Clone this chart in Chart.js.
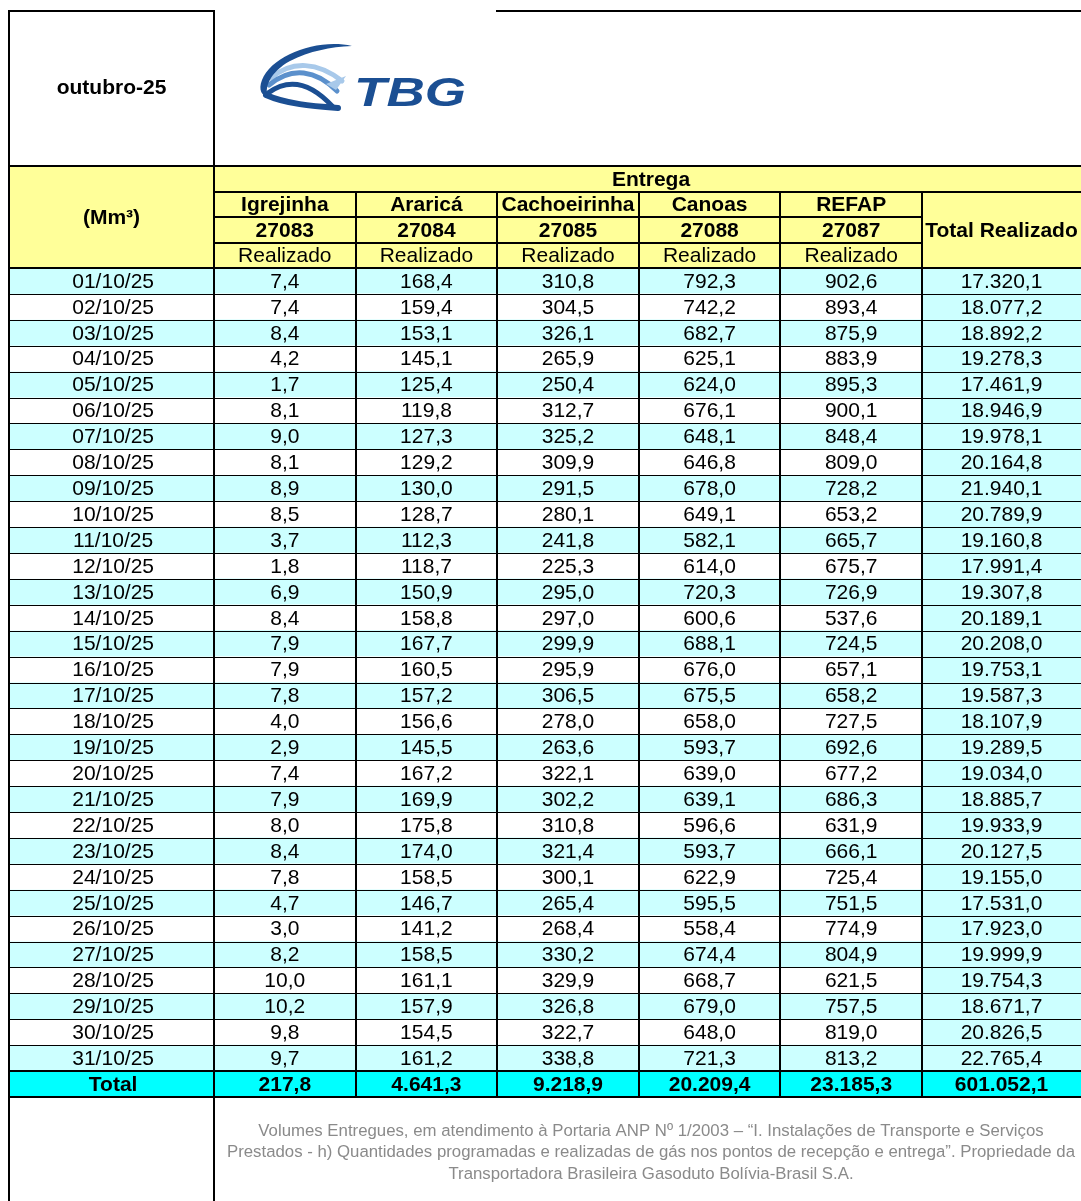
<!DOCTYPE html>
<html>
<head>
<meta charset="utf-8">
<script src="https://cdn.jsdelivr.net/npm/chart.js@4.4.1/dist/chart.umd.min.js"></script>
<style>
  html, body { margin: 0; padding: 0; background: #fff; }
  canvas { display: block; }
</style>
</head>
<body>
<canvas id="canvas" width="1081" height="1201"></canvas>
<script>
// data (Mm³)
const days = ['01/10/25','02/10/25','03/10/25','04/10/25','05/10/25','06/10/25','07/10/25','08/10/25',
  '09/10/25','10/10/25','11/10/25','12/10/25','13/10/25','14/10/25','15/10/25','16/10/25','17/10/25',
  '18/10/25','19/10/25','20/10/25','21/10/25','22/10/25','23/10/25','24/10/25','25/10/25','26/10/25',
  '27/10/25','28/10/25','29/10/25','30/10/25','31/10/25'];
const pointNames = ['Igrejinha', 'Araricá', 'Cachoeirinha', 'Canoas', 'REFAP'];
const pointCodes = ['27083', '27084', '27085', '27088', '27087'];

const igrejinha = [7.4,7.4,8.4,4.2,1.7,8.1,9.0,8.1,8.9,8.5,3.7,1.8,6.9,8.4,7.9,7.9,7.8,4.0,2.9,7.4,
  7.9,8.0,8.4,7.8,4.7,3.0,8.2,10.0,10.2,9.8,9.7];
const ararica = [168.4,159.4,153.1,145.1,125.4,119.8,127.3,129.2,130.0,128.7,112.3,118.7,150.9,158.8,
  167.7,160.5,157.2,156.6,145.5,167.2,169.9,175.8,174.0,158.5,146.7,141.2,158.5,161.1,157.9,154.5,161.2];
const cachoeirinha = [310.8,304.5,326.1,265.9,250.4,312.7,325.2,309.9,291.5,280.1,241.8,225.3,295.0,
  297.0,299.9,295.9,306.5,278.0,263.6,322.1,302.2,310.8,321.4,300.1,265.4,268.4,330.2,329.9,326.8,322.7,338.8];
const canoas = [792.3,742.2,682.7,625.1,624.0,676.1,648.1,646.8,678.0,649.1,582.1,614.0,720.3,600.6,
  688.1,676.0,675.5,658.0,593.7,639.0,639.1,596.6,593.7,622.9,595.5,558.4,674.4,668.7,679.0,648.0,721.3];
const refap = [902.6,893.4,875.9,883.9,895.3,900.1,848.4,809.0,728.2,653.2,665.7,675.7,726.9,537.6,
  724.5,657.1,658.2,727.5,692.6,677.2,686.3,631.9,666.1,725.4,751.5,774.9,804.9,621.5,757.5,819.0,813.2];
const totalRealizado = [17320.1,18077.2,18892.2,19278.3,17461.9,18946.9,19978.1,20164.8,21940.1,
  20789.9,19160.8,17991.4,19307.8,20189.1,20208.0,19753.1,19587.3,18107.9,19289.5,19034.0,18885.7,
  19933.9,20127.5,19155.0,17531.0,17923.0,19999.9,19754.3,18671.7,20826.5,22765.4];
const monthTotals = [217.8, 4641.3, 9218.9, 20209.4, 23185.3, 601052.1];

const footerLines = [
  'Volumes Entregues, em atendimento à Portaria ANP Nº 1/2003 – “I. Instalações de Transporte e Serviços',
  'Prestados - h) Quantidades programadas e realizadas de gás nos pontos de recepção e entrega”. Propriedade da',
  'Transportadora Brasileira Gasoduto Bolívia-Brasil S.A.'
];

// layout
const LEFT = 9, SPLIT = 214, RIGHT = 1081;
const COL_W = 141.6;
const X_MAX = (RIGHT - SPLIT) / COL_W;
const HEAD_Y = [166, 192, 217, 243, 268];
const TABLE_BOTTOM = 1097;
const FONT = '"Liberation Sans", Arial, Helvetica, sans-serif';
const YELLOW = '#FFFF99', LIGHT = '#CCFFFF', CYAN = '#00FFFF';

const rowLabels = days.concat(['Total']);
const columns = [igrejinha, ararica, cachoeirinha, canoas, refap, totalRealizado];

function fmt(v) {
  const parts = v.toFixed(1).split('.');
  return parts[0].replace(/\B(?=(\d{3})+(?!\d))/g, '.') + ',' + parts[1];
}

function colStart(c) { return c; }
function colEnd(c) { return c === 5 ? X_MAX : c + 1; }

function rowFill(i) {
  if (i === days.length) return CYAN;
  return i % 2 === 0 ? LIGHT : '#FFFFFF';
}

function drawLogo(ctx) {
  const dark = '#1B4F93', mid = '#5B90CC', light = '#A8C9EA';
  ctx.save();
  ctx.lineCap = 'round';
  // ribbon bands
  const band = (col, w, pts) => {
    ctx.strokeStyle = col;
    ctx.lineWidth = w;
    ctx.beginPath();
    ctx.moveTo(pts[0], pts[1]);
    ctx.bezierCurveTo(pts[2], pts[3], pts[4], pts[5], pts[6], pts[7]);
    ctx.stroke();
  };
  band(light, 5, [271, 78, 292, 60, 318, 62, 342, 81]);
  band(mid, 5, [269, 85, 292, 66, 316, 70, 337, 91]);
  band(dark, 5, [268, 93, 290, 77, 312, 84, 333, 107]);
  band(dark, 6, [266, 95, 286, 104, 312, 106, 338, 108]);
  // arrow tip of the upper arm
  ctx.fillStyle = light;
  ctx.beginPath();
  ctx.moveTo(326, 84);
  ctx.lineTo(346, 76);
  ctx.lineTo(336, 90);
  ctx.closePath();
  ctx.fill();
  // thin dark arc
  ctx.fillStyle = dark;
  ctx.beginPath();
  ctx.moveTo(352, 46);
  ctx.bezierCurveTo(318, 38, 272, 55, 262, 80);
  ctx.bezierCurveTo(258, 90, 262, 96, 268, 97);
  ctx.bezierCurveTo(264, 88, 270, 72, 290, 61);
  ctx.bezierCurveTo(310, 51, 330, 47, 352, 46);
  ctx.fill();
  // TBG
  ctx.font = 'italic bold 40px ' + FONT;
  const w = ctx.measureText('TBG').width;
  ctx.translate(354, 106);
  ctx.scale(112 / w, 1);
  ctx.textAlign = 'left';
  ctx.textBaseline = 'alphabetic';
  ctx.fillText('TBG', 0, 0);
  ctx.restore();
}

const tablePlugin = {
  id: 'tablePlugin',
  beforeDraw(chart) {
    const ctx = chart.ctx;
    const y = chart.scales.y;
    const band = y.getPixelForValue(1) - y.getPixelForValue(0);
    ctx.save();
    ctx.fillStyle = '#FFFFFF';
    ctx.fillRect(0, 0, chart.width, chart.height);
    ctx.fillStyle = YELLOW;
    ctx.fillRect(LEFT, HEAD_Y[0], RIGHT - LEFT, HEAD_Y[4] - HEAD_Y[0]);
    rowLabels.forEach((d, i) => {
      ctx.fillStyle = rowFill(i);
      ctx.fillRect(LEFT, y.getPixelForValue(i) - band / 2, SPLIT - LEFT, band + 0.5);
    });
    ctx.restore();
  },
  afterDatasetsDraw(chart) {
    const ctx = chart.ctx;
    ctx.save();
    ctx.fillStyle = '#000';
    ctx.textAlign = 'center';
    ctx.textBaseline = 'middle';
    chart.data.datasets.forEach((ds, d) => {
      chart.getDatasetMeta(d).data.forEach((bar, i) => {
        const p = bar.getCenterPoint();
        ctx.font = (i === days.length ? 'bold ' : '') + '21px ' + FONT;
        ctx.fillText(fmt(ds.values[i]), p.x, p.y + 1);
      });
    });
    ctx.restore();
  },
  afterDraw(chart) {
    const ctx = chart.ctx;
    const x = chart.scales.x;
    const y = chart.scales.y;
    const band = y.getPixelForValue(1) - y.getPixelForValue(0);
    const cx = c => (x.getPixelForValue(colStart(c)) + x.getPixelForValue(colEnd(c))) / 2;
    ctx.save();
    ctx.fillStyle = '#000';
    ctx.textAlign = 'center';
    ctx.textBaseline = 'middle';

    // top block and headers
    ctx.font = 'bold 21px ' + FONT;
    ctx.fillText('outubro-25', (LEFT + SPLIT) / 2, 88);
    ctx.fillText('(Mm³)', (LEFT + SPLIT) / 2, 218);
    ctx.fillText('Entrega', 651, HEAD_Y[0] + 14);
    pointNames.forEach((n, c) => ctx.fillText(n, cx(c), (HEAD_Y[1] + HEAD_Y[2]) / 2 + 1));
    pointCodes.forEach((n, c) => ctx.fillText(n, cx(c), (HEAD_Y[2] + HEAD_Y[3]) / 2 + 1));
    ctx.fillText('Total Realizado', cx(5), (HEAD_Y[1] + HEAD_Y[4]) / 2 + 1);
    ctx.font = '21px ' + FONT;
    pointNames.forEach((n, c) => ctx.fillText('Realizado', cx(c), (HEAD_Y[3] + HEAD_Y[4]) / 2 + 1));

    // borders
    const h = (yy, x0, x1, w) => ctx.fillRect(x0, Math.round(yy) - (w > 1 ? 1 : 0), x1 - x0, w);
    const v = (xx, y0, y1, w) => ctx.fillRect(Math.round(xx) - (w > 1 ? 1 : 0), y0, w, y1 - y0);
    h(11, LEFT, SPLIT, 2);
    h(11, 496, RIGHT, 2);
    h(HEAD_Y[0], LEFT, RIGHT, 2);
    h(HEAD_Y[1], SPLIT, RIGHT, 2);
    h(HEAD_Y[2], SPLIT, x.getPixelForValue(5), 2);
    h(HEAD_Y[3], SPLIT, x.getPixelForValue(5), 2);
    h(HEAD_Y[4], LEFT, RIGHT, 2);
    for (let i = 1; i < rowLabels.length; i++) {
      const top = y.getPixelForValue(i) - band / 2;
      h(top, LEFT, RIGHT, i === days.length ? 2 : 1);
    }
    h(TABLE_BOTTOM, LEFT, RIGHT, 2);
    v(LEFT, 10, chart.height, 2);
    v(SPLIT, 10, chart.height, 2);
    for (let c = 1; c <= 5; c++) {
      v(x.getPixelForValue(c), HEAD_Y[1], TABLE_BOTTOM, 2);
    }

    // footer note
    ctx.fillStyle = '#8A8A8A';
    ctx.font = '16.8px ' + FONT;
    footerLines.forEach((t, k) => ctx.fillText(t, 651, 1131 + k * 21.5));

    drawLogo(ctx);
    ctx.restore();
  }
};

new Chart(document.getElementById('canvas'), {
  type: 'bar',
  data: {
    labels: rowLabels,
    datasets: columns.map((vals, c) => ({
      label: c < 5 ? pointNames[c] : 'Total Realizado',
      values: vals.concat([monthTotals[c]]),
      data: rowLabels.map(() => [colStart(c), colEnd(c)]),
      backgroundColor: ctx => (c === 5 && ctx.dataIndex < days.length) ? LIGHT : rowFill(ctx.dataIndex),
      borderWidth: 0,
      grouped: false,
      barPercentage: 1,
      categoryPercentage: 1
    }))
  },
  options: {
    indexAxis: 'y',
    responsive: false,
    devicePixelRatio: 1,
    animation: false,
    events: [],
    layout: { padding: { left: LEFT, top: HEAD_Y[4], right: 0, bottom: 1201 - TABLE_BOTTOM } },
    plugins: { legend: { display: false }, tooltip: { enabled: false }, title: { display: false } },
    scales: {
      x: { type: 'linear', min: 0, max: X_MAX, display: false },
      y: {
        type: 'category',
        grid: { display: false },
        border: { display: false },
        afterFit: scale => { scale.width = SPLIT - LEFT; },
        ticks: {
          autoSkip: false,
          color: '#000',
          padding: 52,
          labelOffset: 1,
          crossAlign: 'center',
          font: c => ({ family: FONT, size: 21, weight: c.index === days.length ? 'bold' : 'normal' })
        }
      }
    }
  },
  plugins: [tablePlugin]
});
</script>
</body>
</html>
